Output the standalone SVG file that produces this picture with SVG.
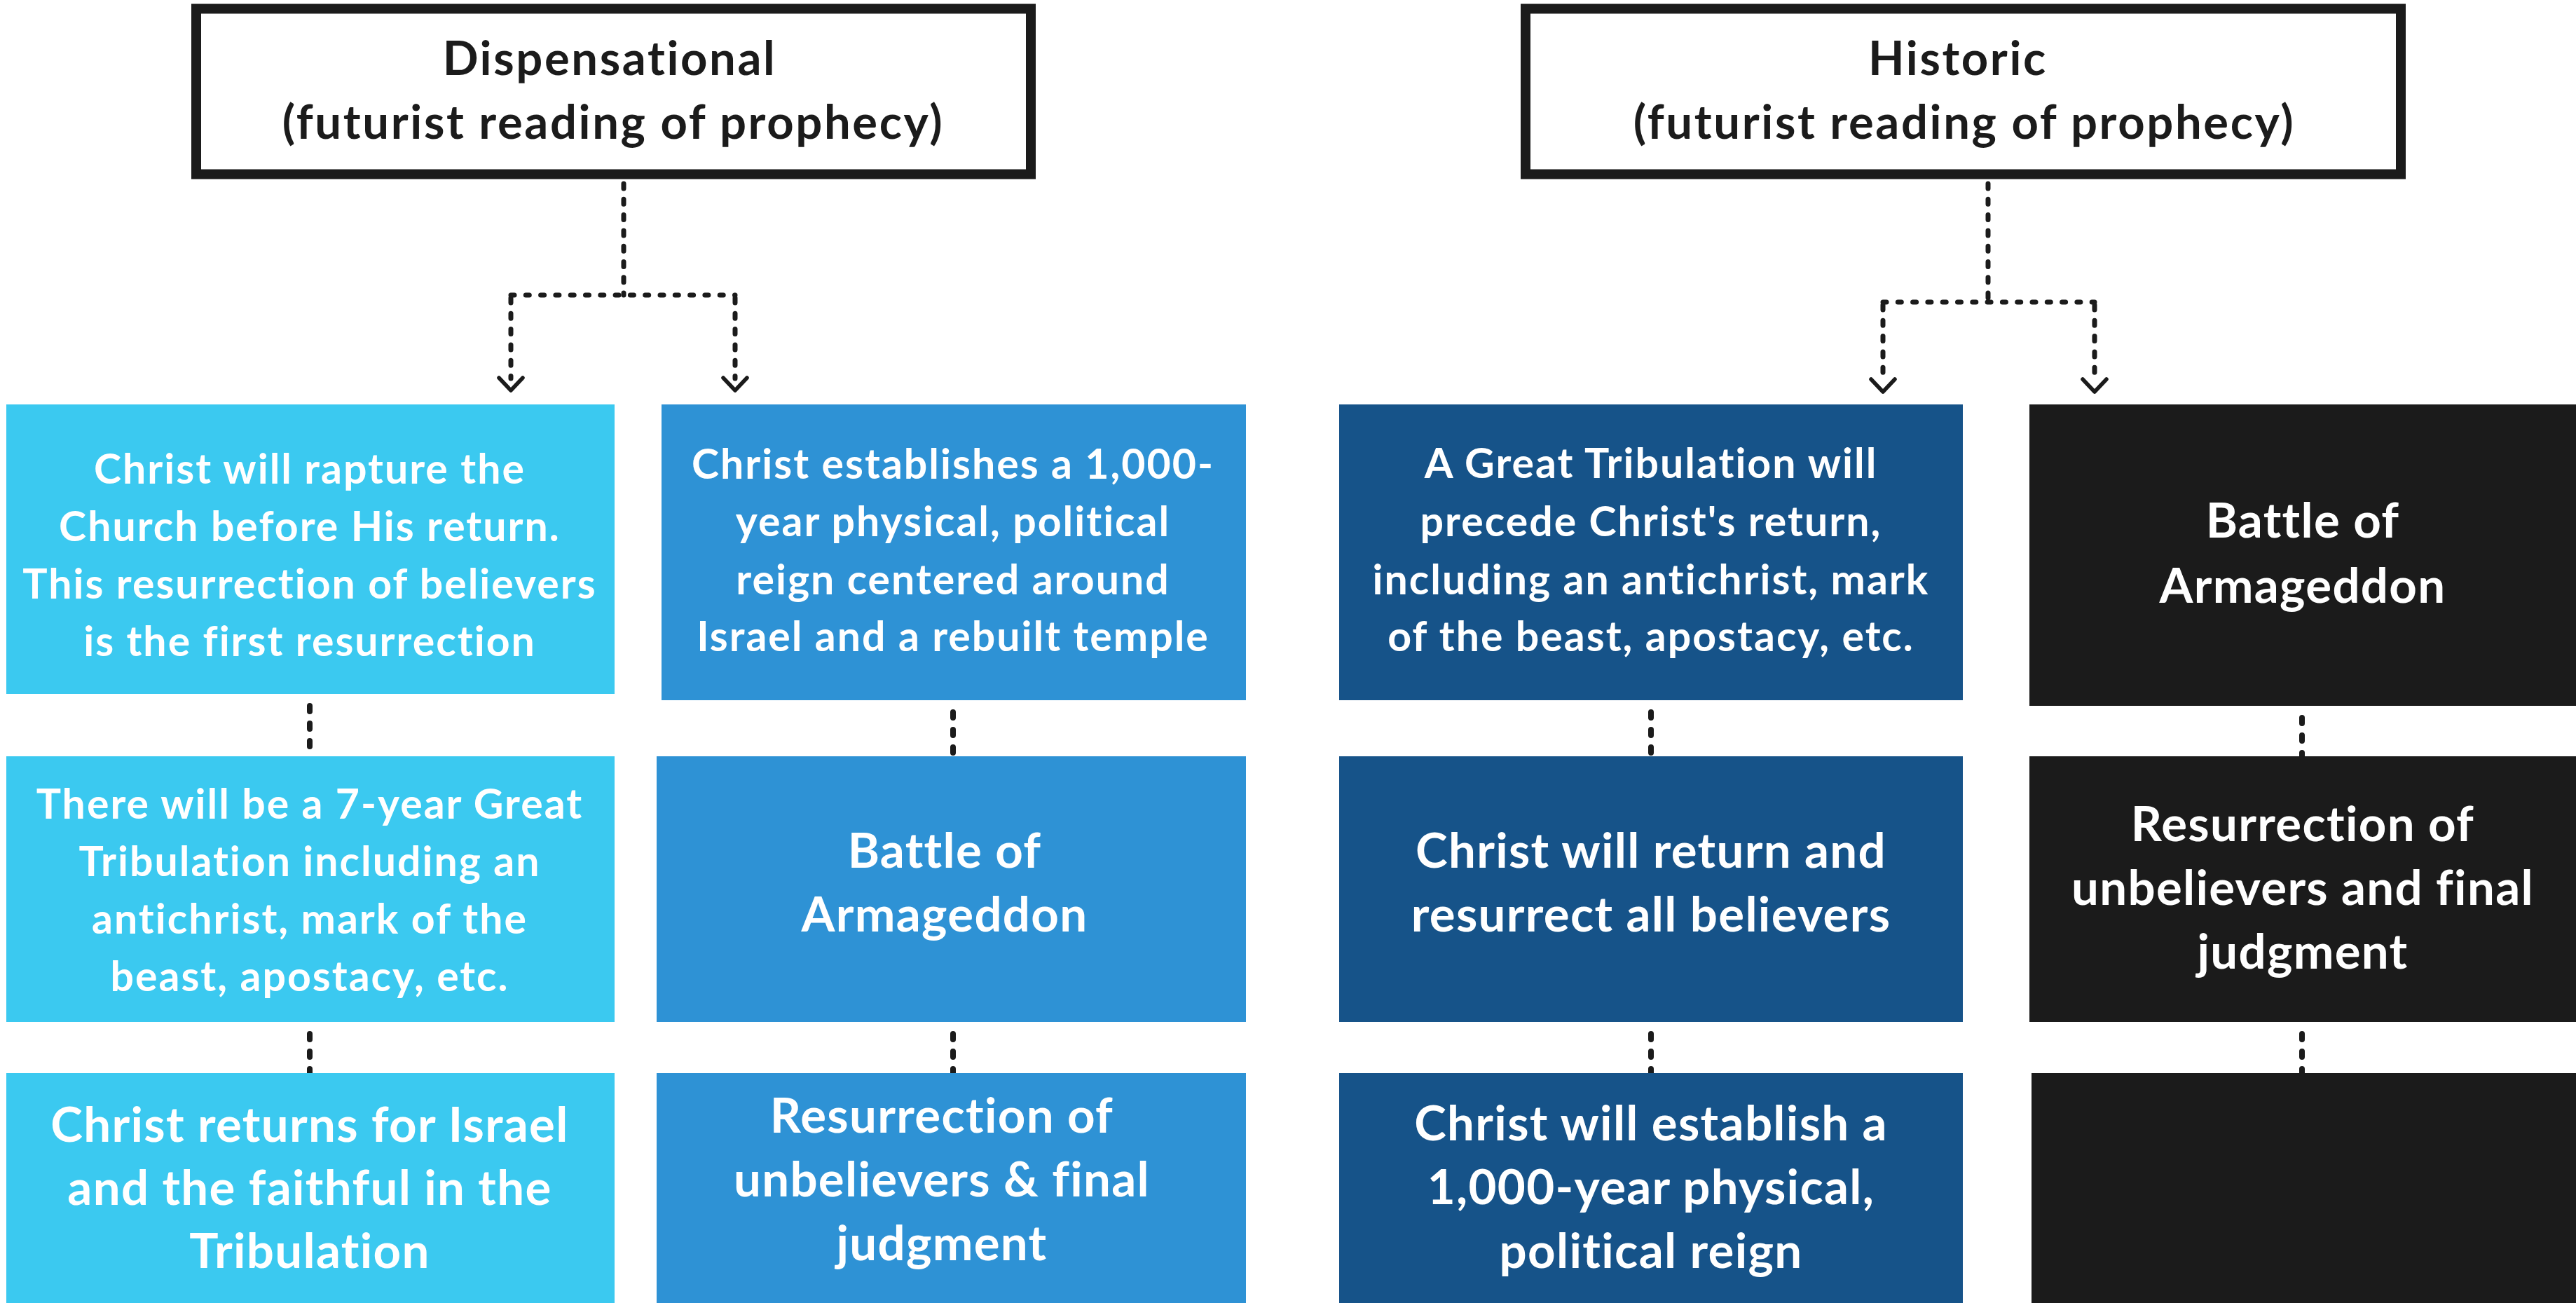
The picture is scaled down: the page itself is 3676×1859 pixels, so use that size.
<svg xmlns="http://www.w3.org/2000/svg" width="3676" height="1859" viewBox="0 0 3676 1859">
<style>
.hdr{fill:#fff;stroke:#1B1B1B;stroke-width:14}
.ht{font-family:Lato,"Liberation Sans",sans-serif;font-weight:700;font-size:67px;fill:#1B1B1B;text-anchor:middle;letter-spacing:2.6px}
.c1{fill:#3BC9F0}.c2{fill:#2E92D5}.c3{fill:#165389}.c4{fill:#1B1B1B}
.t{font-family:Lato,"Liberation Sans",sans-serif;font-weight:700;fill:#fff;text-anchor:middle}
.s{font-size:59px;letter-spacing:2px}
.l{font-size:69px;letter-spacing:1.3px}
.dv{fill:none;stroke:#1B1B1B;stroke-width:7;stroke-linecap:round;stroke-dasharray:7 15.3}
.dh{fill:none;stroke:#1B1B1B;stroke-width:7;stroke-linecap:round;stroke-dasharray:5 16.3}
.dr{fill:none;stroke:#1B1B1B;stroke-width:8;stroke-linecap:round;stroke-dasharray:8 17}
</style>
<defs>
<marker id="chev" markerUnits="userSpaceOnUse" markerWidth="60" markerHeight="60" viewBox="-30 -30 60 60" refX="0" refY="0" orient="auto" overflow="visible">
<path d="M -1 -17 L 17 0 L -1 17" fill="none" stroke="#1B1B1B" stroke-width="5.5" stroke-linecap="round" stroke-linejoin="round"/>
</marker>
</defs>
<rect width="3676" height="1859" fill="#fff"/>
<g id="connectors">
<path class="dv" d="M890 262 V421"/>
<path class="dh" d="M729 421 H1049"/>
<path class="dv" d="M729 425 V540" marker-end="url(#chev)"/>
<path class="dv" d="M1049 425 V540" marker-end="url(#chev)"/>
<path class="dv" d="M2837 262 V431"/>
<path class="dh" d="M2687 431 H2989"/>
<path class="dv" d="M2687 435 V542" marker-end="url(#chev)"/>
<path class="dv" d="M2989 435 V542" marker-end="url(#chev)"/>
<path class="dr" d="M442 1007 V1079 M442 1475 V1531"/>
<path class="dr" d="M1360 1016 V1079 M1360 1475 V1531"/>
<path class="dr" d="M2356 1016 V1079 M2356 1475 V1531"/>
<path class="dr" d="M3285 1024 V1079 M3285 1475 V1531"/>
</g>
<g id="hdr-dispensational">
<rect class="hdr" x="280" y="12.5" width="1191" height="236"/>
<text class="ht" x="870" y="107">Dispensational</text>
<text class="ht" x="875" y="198">(futurist reading of prophecy)</text>
</g>
<g id="hdr-historic">
<rect class="hdr" x="2177" y="12.5" width="1249" height="236"/>
<text class="ht" x="2794" y="107">Historic</text>
<text class="ht" x="2803" y="198">(futurist reading of prophecy)</text>
</g>
<g id="d1">
<rect class="c1" x="9" y="577" width="868" height="413"/>
<text class="t s" x="442"><tspan x="442" y="690">Christ will rapture the</tspan><tspan x="442" y="772">Church before His return.</tspan><tspan x="442" y="854">This resurrection of believers</tspan><tspan x="442" y="936">is the first resurrection</tspan></text>
</g>
<g id="d2">
<rect class="c1" x="9" y="1079" width="868" height="379"/>
<text class="t s" x="442"><tspan x="442" y="1168">There will be a 7-year Great</tspan><tspan x="442" y="1250">Tribulation including an</tspan><tspan x="442" y="1332">antichrist, mark of the</tspan><tspan x="442" y="1414">beast, apostacy, etc.</tspan></text>
</g>
<g id="d3">
<rect class="c1" x="9" y="1531" width="868" height="328"/>
<text class="t l" x="442"><tspan x="442" y="1629">Christ returns for Israel</tspan><tspan x="442" y="1719">and the faithful in the</tspan><tspan x="442" y="1809">Tribulation</tspan></text>
</g>
<g id="d4">
<rect class="c2" x="944" y="577" width="834" height="422"/>
<text class="t s" x="1360"><tspan x="1360" y="683">Christ establishes a 1,000-</tspan><tspan x="1360" y="765">year physical, political</tspan><tspan x="1360" y="848">reign centered around</tspan><tspan x="1360" y="929">Israel and a rebuilt temple</tspan></text>
</g>
<g id="d5">
<rect class="c2" x="937" y="1079" width="841" height="379"/>
<text class="t l" x="1348"><tspan x="1348" y="1238">Battle of</tspan><tspan x="1348" y="1329">Armageddon</tspan></text>
</g>
<g id="d6">
<rect class="c2" x="937" y="1531" width="841" height="328"/>
<text class="t l" x="1344"><tspan x="1344" y="1616">Resurrection of</tspan><tspan x="1344" y="1707">unbelievers &amp; final</tspan><tspan x="1344" y="1798">judgment</tspan></text>
</g>
<g id="h1">
<rect class="c3" x="1911" y="577" width="890" height="422"/>
<text class="t s" x="2356"><tspan x="2356" y="682">A Great Tribulation will</tspan><tspan x="2356" y="765">precede Christ's return,</tspan><tspan x="2356" y="848">including an antichrist, mark</tspan><tspan x="2356" y="929">of the beast, apostacy, etc.</tspan></text>
</g>
<g id="h2">
<rect class="c3" x="1911" y="1079" width="890" height="379"/>
<text class="t l" x="2356"><tspan x="2356" y="1238">Christ will return and</tspan><tspan x="2356" y="1329">resurrect all believers</tspan></text>
</g>
<g id="h3">
<rect class="c3" x="1911" y="1531" width="890" height="328"/>
<text class="t l" x="2356"><tspan x="2356" y="1627">Christ will establish a</tspan><tspan x="2356" y="1718">1,000-year physical,</tspan><tspan x="2356" y="1809">political reign</tspan></text>
</g>
<g id="h4">
<rect class="c4" x="2896" y="577" width="780" height="430"/>
<text class="t l" x="3286"><tspan x="3286" y="767">Battle of</tspan><tspan x="3286" y="860">Armageddon</tspan></text>
</g>
<g id="h5">
<rect class="c4" x="2896" y="1079" width="780" height="379"/>
<text class="t l" x="3286"><tspan x="3286" y="1200">Resurrection of</tspan><tspan x="3286" y="1291">unbelievers and final</tspan><tspan x="3286" y="1382">judgment</tspan></text>
</g>
<g id="h6">
<rect class="c4" x="2899" y="1531" width="777" height="328"/>
</g>
</svg>
